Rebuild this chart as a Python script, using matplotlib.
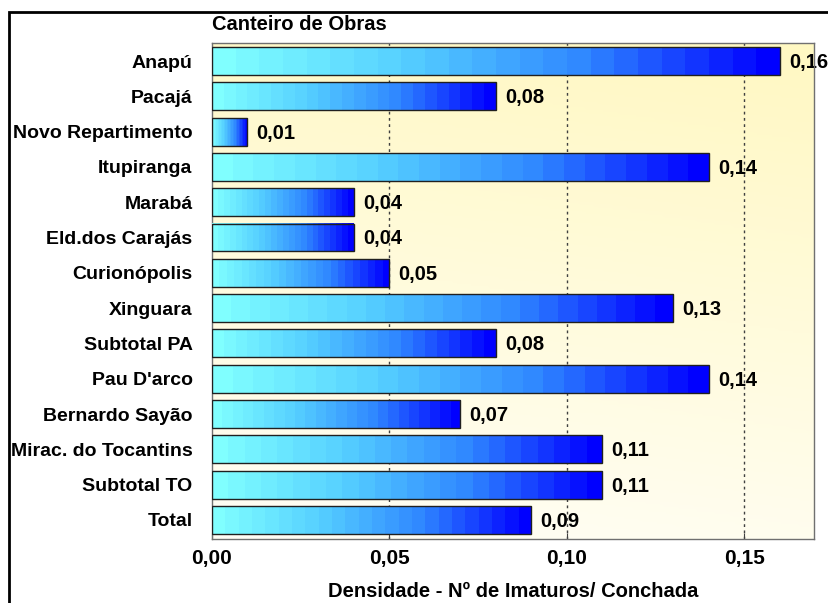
import matplotlib
matplotlib.use('Agg')
import matplotlib.pyplot as plt
import numpy as np
from matplotlib.colors import LinearSegmentedColormap
from matplotlib.patches import Rectangle

plt.rcParams['font.family'] = ['Liberation Sans', 'DejaVu Sans']

# Densidade de imaturos por conchada, por município
municipios = ['Anapú', 'Pacajá', 'Novo Repartimento', 'Itupiranga', 'Marabá',
              'Eld.dos Carajás', 'Curionópolis', 'Xinguara', 'Subtotal PA',
              "Pau D'arco", 'Bernardo Sayão', 'Mirac. do Tocantins',
              'Subtotal TO', 'Total']
densidade = [0.16, 0.08, 0.01, 0.14, 0.04, 0.04, 0.05, 0.13, 0.08,
             0.14, 0.07, 0.11, 0.11, 0.09]
xticks = [0.00, 0.05, 0.10, 0.15]

bar_cmap = LinearSegmentedColormap.from_list(
    'barra', ['#80ffff', '#55cfff', '#2f86ff', '#0000ff'])
bg_cmap = LinearSegmentedColormap.from_list('fundo', ['#fffef6', '#fff8c2'])

W, H = 829, 603
fig = plt.figure(figsize=(W / 100, H / 100), dpi=100)
ax = fig.add_axes([212 / W, 1 - 539 / H, 602 / W, 496 / H])

# borda preta da figura
fig.patches.append(Rectangle((9 / W, -0.1), 1.2, (H - 12) / H + 0.1,
                             transform=fig.transFigure, fill=False,
                             edgecolor='black', linewidth=2, zorder=10))

# fundo em degradê (branco embaixo, amarelo em cima)
yy, xx = np.mgrid[0:1:200j, 0:1:200j]
ax.imshow(0.85 * yy + 0.15 * xx, cmap=bg_cmap, extent=[0, 1, 0, 1],
          transform=ax.transAxes, aspect='auto', origin='lower', zorder=0)

h = 0.79
grad = np.linspace(0, 1, 24).reshape(1, -1)
for i, v in enumerate(densidade):
    ax.imshow(grad, cmap=bar_cmap, extent=[0, v, i - h / 2, i + h / 2],
              aspect='auto', interpolation='nearest', zorder=3)
    ax.add_patch(Rectangle((0, i - h / 2), v, h, fill=False,
                           edgecolor='#202020', linewidth=1, zorder=4))
    ax.text(v + 0.0026, i + 0.04, f'{v:.2f}'.replace('.', ','), va='center',
            ha='left', fontsize=14.5, fontweight='bold', zorder=1)

for x in xticks[1:]:
    ax.axvline(x, color='#404040', linestyle=(0, (2, 2.5)), linewidth=1,
               zorder=2)

ax.set_xlim(0, 0.1697)
ax.set_ylim(13.54, -0.51)
ax.set_xticks(xticks)
ax.set_xticklabels([f'{t:.2f}'.replace('.', ',') for t in xticks],
                   fontsize=15, fontweight='bold')
ax.set_yticks(range(len(municipios)))
ax.set_yticklabels(municipios, fontsize=14, fontweight='bold')
ax.tick_params(axis='y', length=0, pad=14)
ax.tick_params(axis='x', direction='in', length=4, pad=7, color='#404040')
for s in ax.spines.values():
    s.set_color('#707070')
    s.set_linewidth(1)

ax.set_xlabel('Densidade - Nº de Imaturos/ Conchada', fontsize=14.5,
              fontweight='bold')
ax.xaxis.set_label_coords(0.5, -(582 - 539) / 496)
ax.text(0, (539 - 30) / 496, 'Canteiro de Obras', transform=ax.transAxes,
        ha='left', va='baseline', fontsize=14.5, fontweight='bold')

fig.savefig('out.png', dpi=100)
